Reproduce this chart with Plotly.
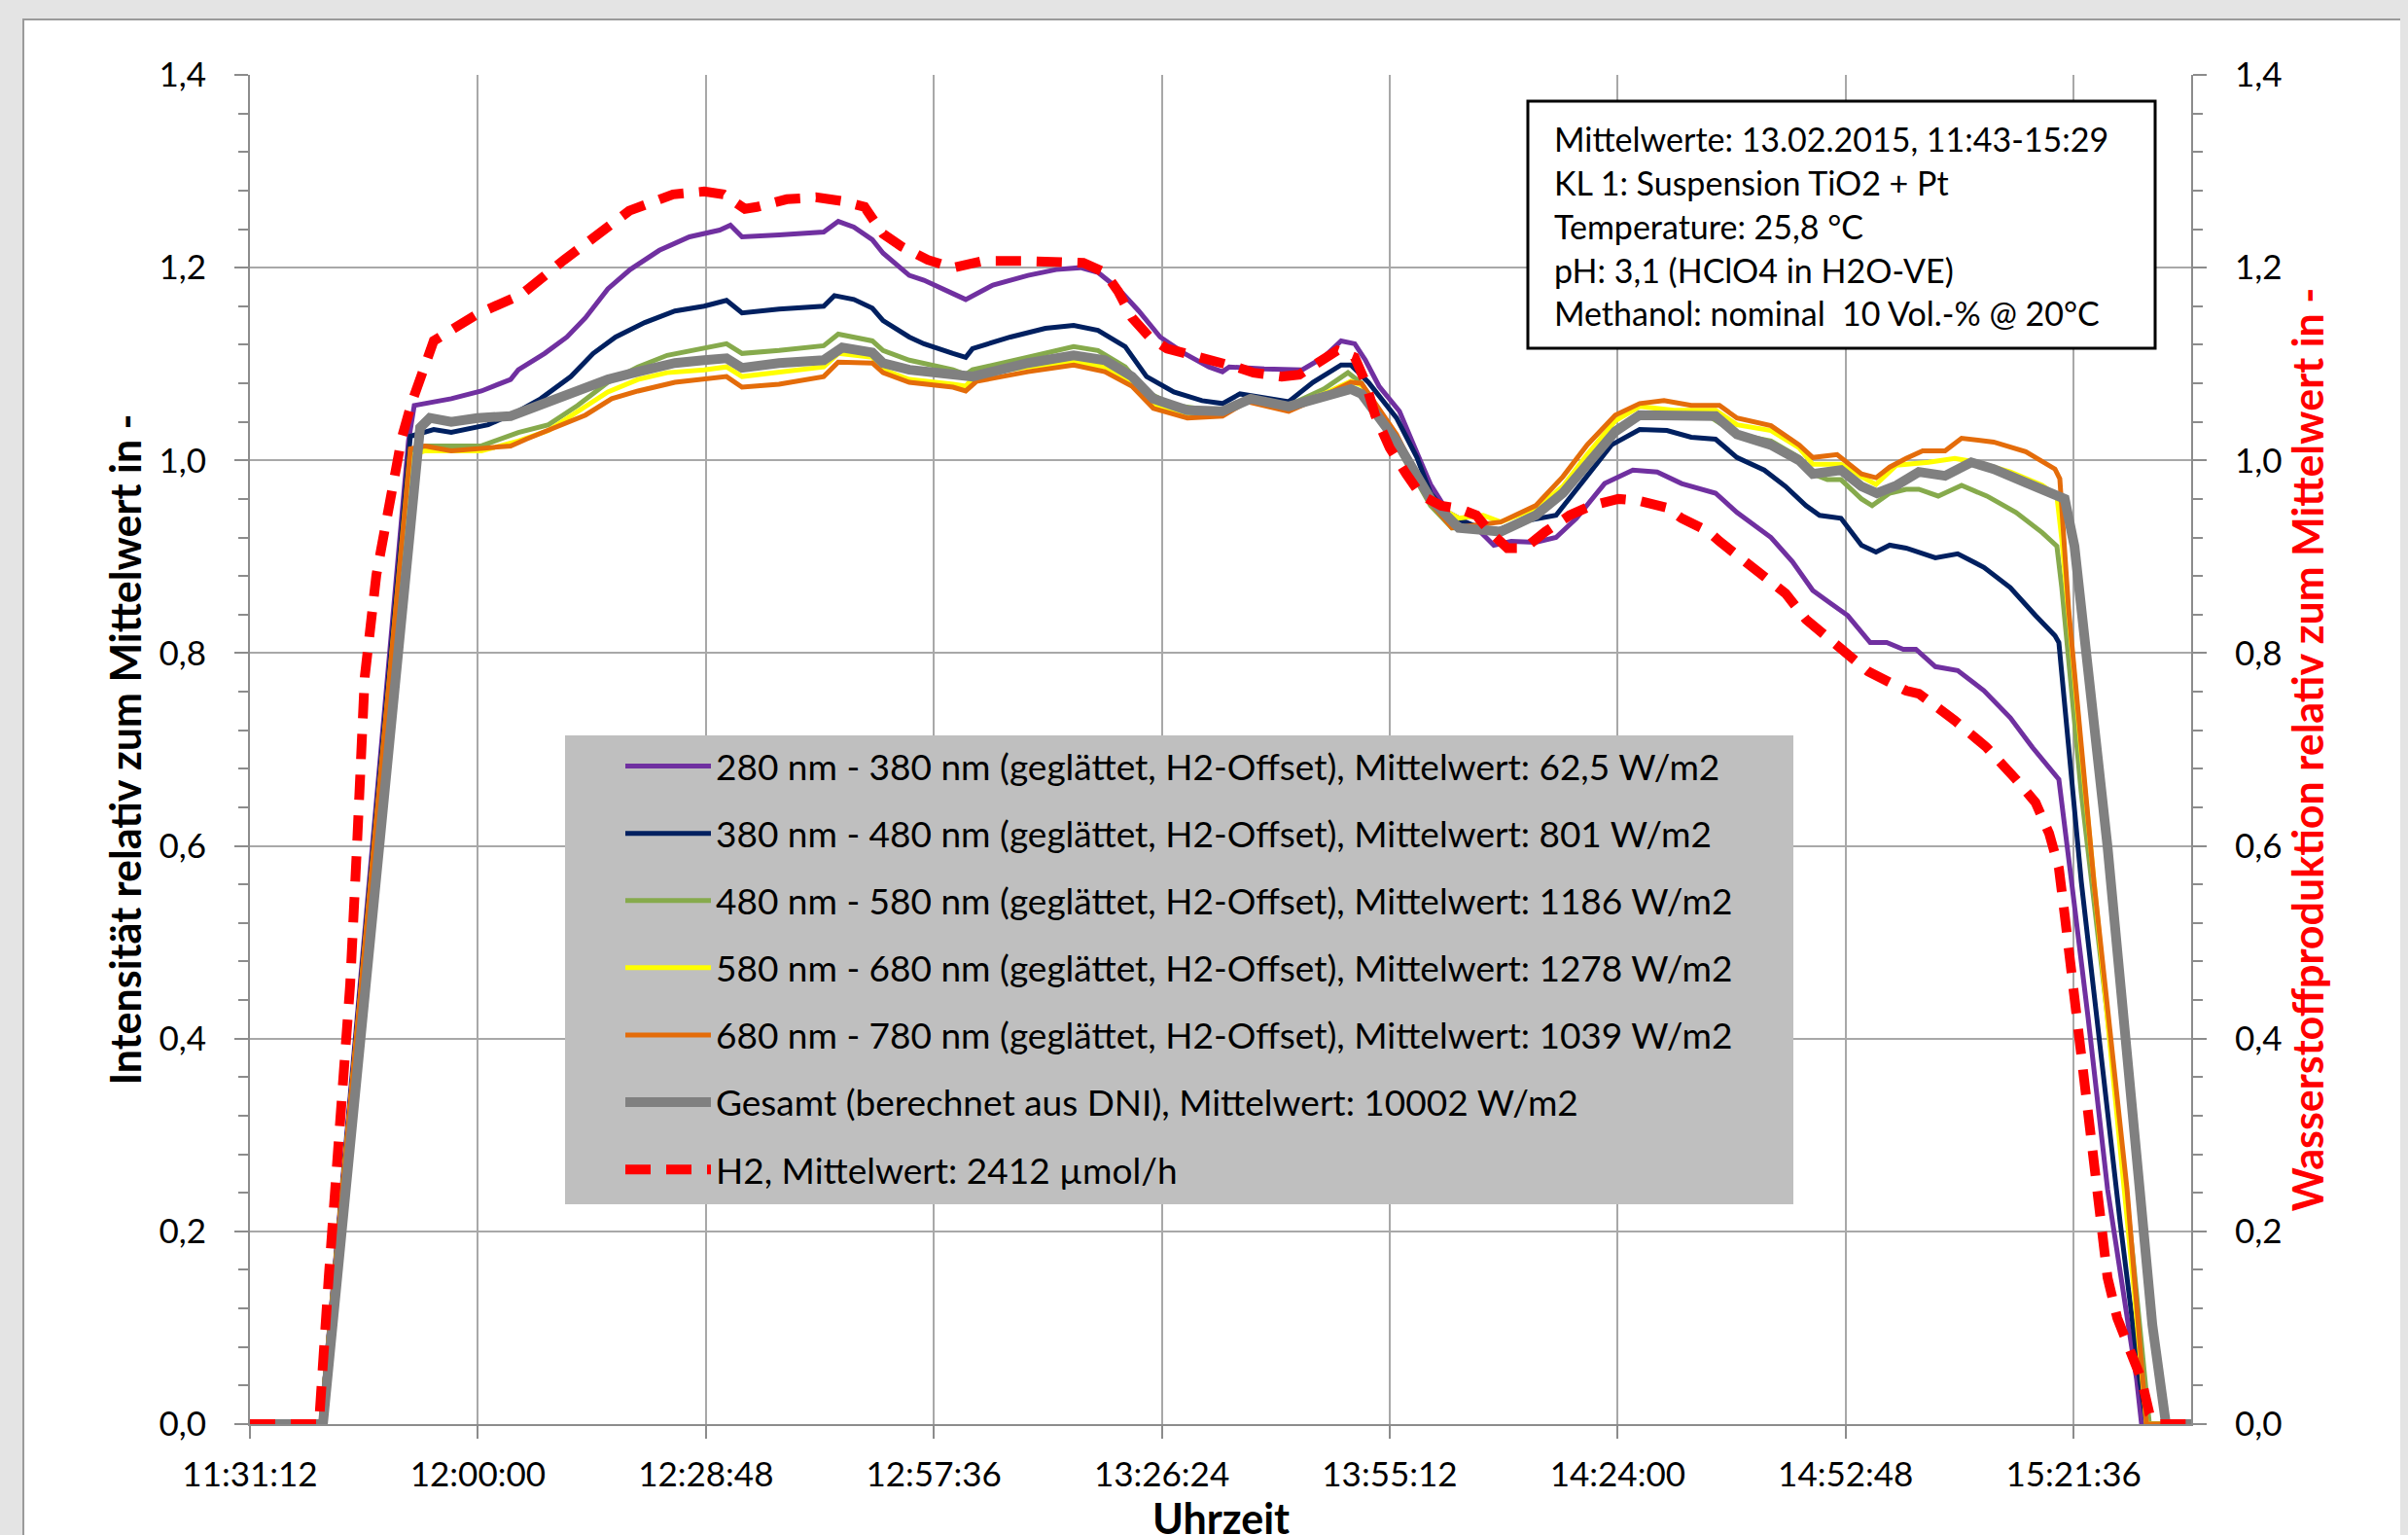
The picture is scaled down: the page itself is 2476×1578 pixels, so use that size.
import pandas as pd
import plotly.graph_objects as go

BASE = pd.Timestamp("2015-02-13 11:00:00")

# ---- data: time in minutes after 11:00, values relative to mean ----
t_uv = [31.2, 40.17, 51.23, 51.96, 56.63, 60.44, 64.13, 65.11, 68.43, 71.25, 73.59, 76.42, 79.24, 82.93, 86.73, 90.55, 91.90, 93.37, 98.04, 103.69, 105.53, 107.50, 109.83, 111.19, 114.50, 116.35, 120.03, 121.63, 125.07, 129.50, 133.06, 136.13, 138.34, 140.92, 143.50, 146.20, 149.27, 152.35, 154.07, 154.93, 159.35, 164.14, 166.85, 169.06, 170.78, 172.13, 173.85, 176.43, 178.64, 180.36, 182.57, 186.14, 188.35, 190.56, 193.63, 196.21, 198.79, 202.35, 205.92, 208.99, 212.07, 216.37, 219.07, 223.37, 226.07, 228.65, 230.86, 233.07, 235.90, 237.99, 240.08, 241.68, 244.14, 246.96, 250.28, 253.60, 256.42, 259.74, 261.34, 263.43, 265.89, 267.85, 269.57, 270.19, 276.45]
v_uv = [0, 0, 1.020, 1.057, 1.064, 1.072, 1.084, 1.094, 1.111, 1.128, 1.148, 1.178, 1.198, 1.218, 1.232, 1.239, 1.244, 1.232, 1.234, 1.237, 1.248, 1.242, 1.229, 1.215, 1.192, 1.187, 1.173, 1.167, 1.182, 1.192, 1.198, 1.200, 1.195, 1.178, 1.155, 1.128, 1.111, 1.097, 1.092, 1.097, 1.095, 1.094, 1.107, 1.124, 1.121, 1.104, 1.077, 1.051, 1.008, 0.975, 0.946, 0.930, 0.912, 0.916, 0.915, 0.920, 0.940, 0.976, 0.990, 0.988, 0.976, 0.966, 0.946, 0.920, 0.895, 0.865, 0.852, 0.839, 0.811, 0.811, 0.804, 0.804, 0.786, 0.782, 0.761, 0.733, 0.702, 0.669, 0.563, 0.422, 0.244, 0.138, 0.046, 0, 0]

t_blue = [31.2, 40.17, 51.47, 54.42, 56.63, 59.95, 61.30, 65.11, 67.94, 71.75, 74.57, 77.40, 81.08, 84.89, 88.58, 91.41, 93.37, 98.04, 103.69, 105.04, 107.50, 109.83, 111.19, 114.50, 116.35, 120.03, 121.63, 122.49, 127.28, 131.70, 135.27, 138.34, 141.78, 144.48, 147.92, 151.49, 154.07, 156.28, 160.21, 162.43, 165.50, 169.06, 170.29, 172.50, 176.06, 178.64, 180.36, 182.57, 185.64, 188.35, 191.42, 196.21, 199.77, 203.22, 206.78, 210.22, 213.29, 216.37, 219.07, 222.51, 225.21, 227.79, 229.51, 232.21, 234.80, 236.64, 238.36, 240.44, 244.14, 246.96, 250.28, 253.60, 256.79, 259.25, 259.74, 260.97, 262.57, 265.03, 267.49, 269.95, 270.81, 276.45]
v_blue = [0, 0, 1.025, 1.032, 1.029, 1.034, 1.037, 1.051, 1.064, 1.087, 1.111, 1.128, 1.143, 1.155, 1.160, 1.166, 1.153, 1.157, 1.160, 1.171, 1.167, 1.158, 1.145, 1.128, 1.121, 1.111, 1.107, 1.116, 1.128, 1.137, 1.140, 1.135, 1.118, 1.087, 1.071, 1.062, 1.059, 1.069, 1.064, 1.061, 1.081, 1.099, 1.099, 1.081, 1.044, 1.003, 0.966, 0.943, 0.933, 0.926, 0.936, 0.943, 0.980, 1.016, 1.032, 1.031, 1.024, 1.022, 1.003, 0.990, 0.973, 0.953, 0.943, 0.940, 0.912, 0.905, 0.912, 0.909, 0.899, 0.903, 0.889, 0.868, 0.839, 0.818, 0.811, 0.698, 0.563, 0.386, 0.209, 0.046, 0, 0]

t_green = [31.2, 40.17, 51.47, 53.32, 60.44, 65.11, 68.92, 72.61, 76.42, 80.22, 83.91, 88.58, 91.41, 93.37, 98.04, 103.69, 105.53, 109.83, 111.19, 114.50, 120.03, 121.63, 122.49, 129.50, 135.27, 138.34, 141.78, 144.48, 147.92, 153.70, 157.14, 162.43, 166.85, 169.92, 171.64, 176.06, 180.36, 183.06, 186.99, 189.21, 193.63, 197.07, 200.14, 203.70, 206.78, 211.08, 215.51, 219.07, 223.37, 226.93, 228.65, 230.49, 232.21, 234.80, 236.15, 238.36, 240.44, 242.04, 244.50, 247.45, 250.64, 254.33, 257.65, 259.49, 260.11, 262.57, 265.89, 269.09, 271.18, 276.45]
v_green = [0, 0, 1.010, 1.015, 1.015, 1.029, 1.037, 1.057, 1.081, 1.097, 1.109, 1.116, 1.121, 1.111, 1.114, 1.119, 1.131, 1.124, 1.114, 1.104, 1.094, 1.089, 1.094, 1.107, 1.118, 1.114, 1.097, 1.071, 1.057, 1.051, 1.064, 1.057, 1.074, 1.091, 1.080, 1.016, 0.953, 0.930, 0.931, 0.926, 0.946, 0.966, 1.000, 1.033, 1.048, 1.047, 1.046, 1.027, 1.020, 1.003, 0.986, 0.980, 0.980, 0.960, 0.953, 0.966, 0.970, 0.970, 0.963, 0.974, 0.963, 0.946, 0.925, 0.911, 0.868, 0.655, 0.422, 0.174, 0, 0]

t_yellow = [31.2, 40.17, 51.47, 53.32, 60.44, 65.11, 68.92, 72.61, 76.42, 80.22, 83.91, 88.58, 91.41, 93.37, 98.04, 103.69, 105.53, 109.83, 111.19, 114.50, 120.03, 121.63, 122.98, 129.50, 135.27, 139.20, 142.64, 145.34, 149.64, 154.07, 157.14, 162.43, 166.85, 170.29, 171.64, 176.06, 180.36, 183.93, 186.99, 189.21, 193.63, 197.07, 200.14, 203.70, 206.78, 211.08, 216.37, 219.07, 223.37, 226.93, 228.65, 232.21, 234.80, 236.64, 239.22, 243.27, 246.59, 249.42, 253.60, 257.65, 259.49, 260.11, 262.57, 265.89, 269.09, 270.81, 276.45]
v_yellow = [0, 0, 1.005, 1.010, 1.010, 1.020, 1.031, 1.051, 1.071, 1.084, 1.091, 1.094, 1.097, 1.087, 1.091, 1.097, 1.111, 1.107, 1.094, 1.084, 1.079, 1.077, 1.089, 1.097, 1.102, 1.097, 1.081, 1.057, 1.047, 1.047, 1.062, 1.056, 1.069, 1.082, 1.078, 1.020, 0.956, 0.940, 0.943, 0.936, 0.950, 0.973, 1.006, 1.041, 1.056, 1.052, 1.052, 1.037, 1.031, 1.013, 0.996, 0.996, 0.983, 0.975, 0.995, 0.998, 1.002, 0.998, 0.988, 0.974, 0.963, 0.918, 0.698, 0.422, 0.152, 0, 0]

t_orange = [31.2, 40.17, 51.47, 53.32, 56.63, 64.13, 66.09, 69.78, 73.59, 76.91, 80.22, 84.89, 88.58, 91.41, 93.37, 98.04, 103.69, 105.53, 109.83, 111.19, 114.50, 120.03, 121.63, 122.98, 129.50, 135.27, 139.20, 142.64, 145.34, 149.64, 154.07, 157.14, 162.43, 166.85, 170.29, 171.64, 176.06, 180.36, 183.06, 186.14, 189.21, 193.63, 197.07, 200.14, 203.70, 206.78, 209.85, 213.29, 216.86, 219.07, 223.37, 226.93, 228.65, 231.72, 234.80, 236.64, 238.36, 240.44, 242.53, 245.36, 247.45, 251.50, 255.56, 259.25, 259.86, 260.97, 264.17, 268.35, 270.81, 276.45]
v_orange = [0, 0, 1.012, 1.015, 1.010, 1.015, 1.022, 1.034, 1.047, 1.064, 1.072, 1.081, 1.084, 1.087, 1.076, 1.079, 1.087, 1.102, 1.101, 1.091, 1.081, 1.076, 1.072, 1.082, 1.092, 1.099, 1.092, 1.077, 1.054, 1.044, 1.046, 1.061, 1.051, 1.067, 1.081, 1.080, 1.027, 0.956, 0.930, 0.933, 0.936, 0.953, 0.983, 1.016, 1.047, 1.059, 1.062, 1.057, 1.057, 1.044, 1.036, 1.016, 1.003, 1.006, 0.986, 0.982, 0.993, 1.002, 1.010, 1.010, 1.023, 1.019, 1.009, 0.991, 0.981, 0.846, 0.563, 0.244, 0, 0]

t_total = [31.2, 40.42, 52.70, 53.93, 56.63, 59.95, 64.13, 68.92, 72.61, 76.42, 80.22, 84.89, 88.58, 91.41, 93.37, 98.04, 103.69, 106.03, 109.83, 111.19, 114.50, 120.03, 122.49, 129.50, 135.27, 139.20, 142.64, 145.34, 149.64, 154.07, 157.63, 162.43, 166.85, 170.29, 171.64, 176.06, 180.36, 183.93, 189.21, 193.63, 197.07, 200.14, 203.70, 206.78, 211.08, 216.37, 219.07, 223.37, 226.93, 228.65, 232.21, 234.80, 236.76, 239.22, 242.04, 245.36, 248.67, 251.50, 255.56, 260.48, 261.71, 265.89, 269.95, 271.55, 273.27, 276.45]
v_total = [0, 0, 1.034, 1.044, 1.040, 1.044, 1.046, 1.061, 1.072, 1.084, 1.092, 1.101, 1.104, 1.106, 1.096, 1.101, 1.104, 1.117, 1.112, 1.101, 1.094, 1.089, 1.087, 1.101, 1.109, 1.104, 1.087, 1.064, 1.052, 1.051, 1.064, 1.056, 1.067, 1.074, 1.069, 1.020, 0.960, 0.930, 0.926, 0.943, 0.966, 0.996, 1.030, 1.047, 1.046, 1.046, 1.027, 1.016, 1.000, 0.986, 0.990, 0.973, 0.966, 0.974, 0.988, 0.984, 0.998, 0.991, 0.977, 0.960, 0.911, 0.599, 0.244, 0.103, 0, 0]

t_h2 = [31.2, 39.92, 41.15, 42.63, 43.86, 44.72, 45.70, 47.17, 48.77, 50.37, 51.60, 54.42, 59.95, 65.48, 70.89, 76.42, 79.12, 84.65, 88.58, 91.04, 93.74, 95.22, 99.02, 102.71, 106.03, 108.85, 111.19, 113.52, 116.84, 120.03, 123.84, 128.63, 134.78, 136.50, 139.20, 140.92, 142.64, 144.85, 147.07, 150.63, 152.72, 155.79, 158.00, 161.56, 163.78, 166.36, 168.57, 170.78, 172.13, 173.36, 175.20, 177.29, 179.13, 181.71, 183.93, 186.14, 187.86, 190.07, 192.28, 194.86, 197.93, 200.64, 204.08, 206.78, 210.22, 212.07, 215.51, 216.86, 219.93, 222.51, 225.21, 227.79, 230.00, 233.07, 235.65, 240.44, 242.04, 246.59, 250.64, 254.33, 256.79, 258.51, 259.74, 260.48, 261.34, 262.20, 262.94, 264.17, 265.03, 265.89, 267.12, 268.72, 270.19, 271.18, 272.40, 276.45]
v_h2 = [0, 0, 0.152, 0.315, 0.456, 0.599, 0.775, 0.881, 0.953, 1.023, 1.059, 1.124, 1.152, 1.172, 1.208, 1.243, 1.259, 1.276, 1.279, 1.276, 1.261, 1.263, 1.271, 1.273, 1.269, 1.263, 1.235, 1.222, 1.208, 1.200, 1.207, 1.207, 1.207, 1.205, 1.195, 1.175, 1.148, 1.128, 1.116, 1.109, 1.104, 1.097, 1.091, 1.087, 1.089, 1.104, 1.114, 1.107, 1.081, 1.047, 1.013, 0.986, 0.964, 0.953, 0.950, 0.943, 0.926, 0.909, 0.909, 0.926, 0.943, 0.953, 0.960, 0.958, 0.951, 0.940, 0.926, 0.916, 0.895, 0.879, 0.862, 0.835, 0.819, 0.798, 0.781, 0.761, 0.758, 0.730, 0.702, 0.669, 0.645, 0.613, 0.577, 0.528, 0.471, 0.415, 0.350, 0.280, 0.209, 0.152, 0.110, 0.075, 0.046, 0.011, 0, 0]

series_names = [
    "280 nm - 380 nm (geglättet, H2-Offset), Mittelwert: 62,5 W/m2",
    "380 nm - 480 nm (geglättet, H2-Offset), Mittelwert: 801 W/m2",
    "480 nm - 580 nm (geglättet, H2-Offset), Mittelwert: 1186 W/m2",
    "580 nm - 680 nm (geglättet, H2-Offset), Mittelwert: 1278 W/m2",
    "680 nm - 780 nm (geglättet, H2-Offset), Mittelwert: 1039 W/m2",
    "Gesamt (berechnet aus DNI), Mittelwert: 10002 W/m2",
    "H2, Mittelwert: 2412 µmol/h",
]
info_lines = [
    "Mittelwerte: 13.02.2015, 11:43-15:29",
    "KL 1: Suspension TiO2 + Pt",
    "Temperature: 25,8 °C",
    "pH: 3,1 (HClO4 in H2O-VE)",
    "Methanol: nominal  10 Vol.-% @ 20°C",
]
x_title = "Uhrzeit"

colors = ["#7030A0", "#002060", "#86AA4C", "#FFFF00", "#E46C0A", "#808080", "#FF0000"]
widths = [5, 5, 5, 5, 5, 10, 10]

def to_time(mins):
    return [BASE + pd.Timedelta(minutes=m) for m in mins]

# ---- pixel layout (page coordinates; the page body has an 8px margin) ----
OFF = 8
W, H = 2476 - OFF, 1578 - OFF
L, R, T, B = 257, 2253, 77, 1464
def PX(x):
    return (x - L) / (R - L)
def PY(y):
    return (B - y) / (B - T)

FONT = "Lato"
fig = go.Figure()

data = [(t_uv, v_uv), (t_blue, v_blue), (t_green, v_green), (t_yellow, v_yellow),
        (t_orange, v_orange), (t_total, v_total)]
for i, (t, v) in enumerate(data):
    fig.add_trace(go.Scatter(
        x=to_time(t), y=v, mode="lines", name=series_names[i],
        line=dict(color=colors[i], width=widths[i]),
        legendgroup=f"g{i}", yaxis="y"))

fig.add_trace(go.Scatter(
    x=to_time(t_h2), y=v_h2, mode="lines", name=series_names[6],
    line=dict(color=colors[6], width=widths[6], dash="26px,16px"),
    legendgroup="g6", yaxis="y2"))

axis_col = "#8c8c8c"
grid_col = "#a8a8a8"
tick_font = dict(family=FONT, size=35, color="black")
title_size = 43

fig.update_layout(
    template="none",
    width=W, height=H,
    margin=dict(l=L - OFF, r=W - (R - OFF), t=T - OFF, b=H - (B - OFF), pad=0),
    paper_bgcolor="#e4e4e4",
    plot_bgcolor="white",
    separators=",.",
    font=dict(family=FONT, color="black"),
    showlegend=True,
    legend=dict(
        x=PX(638), y=PY(757), xanchor="left", yanchor="top",
        bgcolor="rgba(0,0,0,0)", borderwidth=0,
        font=dict(family=FONT, size=37, color="black"),
        tracegroupgap=18, traceorder="grouped", itemwidth=88,
    ),
    xaxis=dict(
        type="date",
        range=[BASE + pd.Timedelta(minutes=31.2), BASE + pd.Timedelta(minutes=276.45)],
        tick0=BASE + pd.Timedelta(minutes=31.2), dtick=1728000,
        tickformat="%H:%M:%S",
        showgrid=True, gridcolor=grid_col, gridwidth=1.5,
        ticks="outside", ticklen=13, tickwidth=1.5, tickcolor=axis_col,
        showline=True, linecolor=axis_col, linewidth=2,
        zeroline=False, automargin=False,
        tickfont=tick_font, ticklabelstandoff=7,
    ),
    yaxis=dict(
        range=[0, 1.4], tick0=0, dtick=0.2, tickformat=".1f",
        showgrid=True, gridcolor=grid_col, gridwidth=1.5,
        ticks="outside", ticklen=14, tickwidth=1.5, tickcolor=axis_col,
        minor=dict(dtick=0.04, tick0=0, ticks="outside", ticklen=10, tickwidth=1.5,
                   tickcolor=axis_col, showgrid=False),
        showline=True, linecolor=axis_col, linewidth=2,
        zeroline=False, automargin=False,
        tickfont=tick_font, ticklabelstandoff=22,
        title=dict(text="<b>Intensität relativ zum Mittelwert in -</b>",
                   font=dict(family=FONT, size=title_size, color="black"), standoff=4),
    ),
    yaxis2=dict(
        overlaying="y", side="right",
        range=[0, 1.4], tick0=0, dtick=0.2, tickformat=".1f",
        showgrid=False,
        ticks="outside", ticklen=14, tickwidth=1.5, tickcolor=axis_col,
        minor=dict(dtick=0.04, tick0=0, ticks="outside", ticklen=10, tickwidth=1.5,
                   tickcolor=axis_col, showgrid=False),
        showline=True, linecolor=axis_col, linewidth=2,
        zeroline=False, automargin=False,
        tickfont=tick_font, ticklabelstandoff=22,
        title=dict(text="<b>Wasserstoffproduktion relativ zum Mittelwert in -</b>",
                   font=dict(family=FONT, size=title_size, color="#FF0000"), standoff=13),
    ),
)

shapes = [
    # white chart area with grey frame
    dict(type="rect", xref="paper", yref="paper", layer="below",
         x0=PX(24), x1=PX(2470), y0=PY(20), y1=PY(1640),
         fillcolor="white", line=dict(color="#9a9a9a", width=2)),
    # legend background
    dict(type="rect", xref="paper", yref="paper", layer="above",
         x0=PX(581), x1=PX(1844), y0=PY(756), y1=PY(1238),
         fillcolor="#bfbfbf", line=dict(width=0)),
    # info box
    dict(type="rect", xref="paper", yref="paper", layer="above",
         x0=PX(1571), x1=PX(2216), y0=PY(104), y1=PY(358),
         fillcolor="white", line=dict(color="black", width=3)),
]
fig.update_layout(shapes=shapes)

line_y = [142, 187, 232, 277, 321]
for txt, yy in zip(info_lines, line_y):
    fig.add_annotation(x=PX(1596), y=PY(yy), xref="paper", yref="paper",
                       xanchor="left", yanchor="middle", showarrow=False,
                       text=txt, font=dict(family=FONT, size=34, color="black"))

# x-axis title (placed as in the reference, partly below the visible page edge)
fig.add_annotation(x=0.5, y=PY(1533), xref="paper", yref="paper",
                   xanchor="center", yanchor="top", showarrow=False,
                   text=f"<b>{x_title}</b>",
                   font=dict(family=FONT, size=title_size, color="black"))

fig.write_html("out.html",
               post_script="document.body.style.background='#e4e4e4';")
